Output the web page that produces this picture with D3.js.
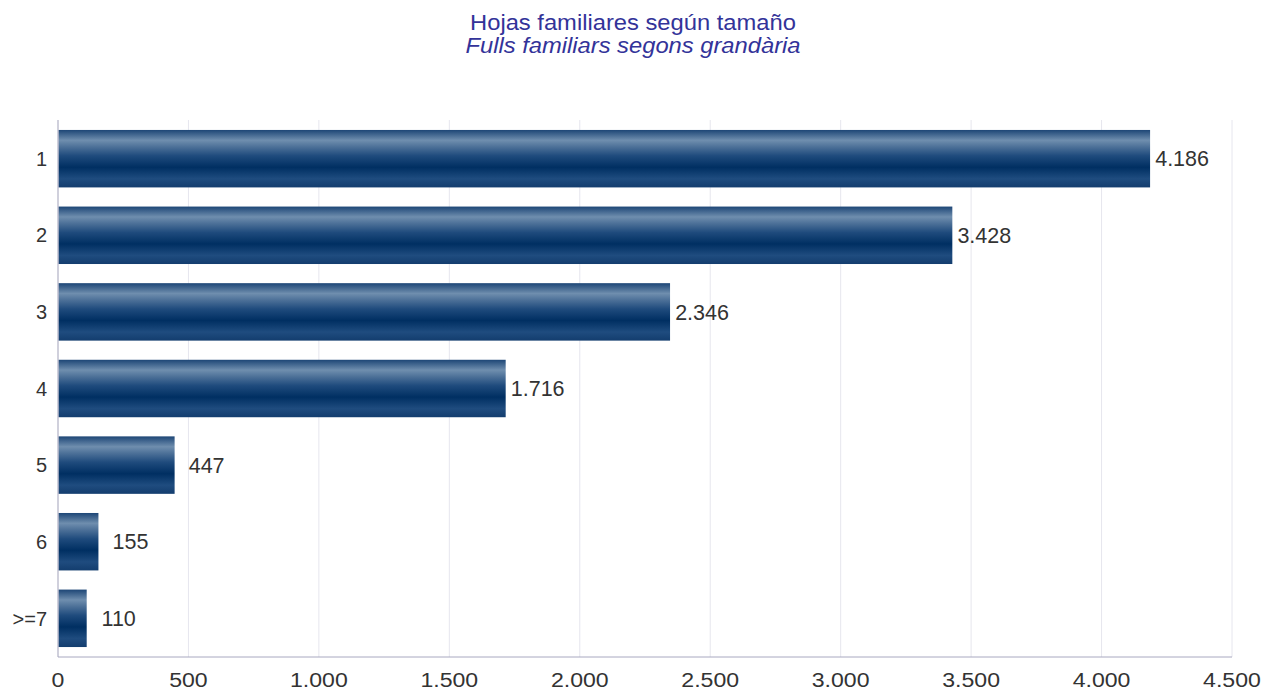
<!DOCTYPE html>
<html><head><meta charset="utf-8">
<script src="https://cdn.jsdelivr.net/npm/d3@7"></script>
<style>body{margin:0;background:#fff;font-family:"Liberation Sans",Arial,sans-serif;}</style>
</head><body>
<svg id="c" width="1267" height="692"></svg>
<script>
const categories = ["1","2","3","4","5","6",">=7"];
const values = [4186,3428,2346,1716,447,155,110];
const xTicks = [0,500,1000,1500,2000,2500,3000,3500,4000,4500];
const title = "Hojas familiares según tamaño";
const subtitle = "Fulls familiars segons grandària";

const svg = d3.select("#c");
const m = {l:58, r:35, t:120, b:35};
const W = 1267, H = 692;
const fmt = v => d3.format(",")(v).replace(/,/g, ".");

const x = d3.scaleLinear().domain([0,4500]).range([m.l, W - m.r]);
const y = d3.scaleBand().domain(categories).range([m.t, H - m.b]).paddingInner(0.25).paddingOuter(0.13);

// horizontally stretched text helper
function stretch(sel, sx) {
  sel.attr("transform", function() {
    const tx = +d3.select(this).attr("x");
    return `translate(${tx},0) scale(${sx},1) translate(${-tx},0)`;
  });
}

const defs = svg.append("defs");
const g = defs.append("linearGradient").attr("id","bar").attr("x1",0).attr("y1",0).attr("x2",0).attr("y2",1);
[[0,"#1d4676"],[0.18,"#6f8eae"],[0.3,"#4b6f97"],[0.45,"#1f4b7d"],[0.65,"#002f62"],[0.85,"#1f4c7f"],[1,"#133d6e"]]
  .forEach(([o,c]) => g.append("stop").attr("offset",o).attr("stop-color",c));

const t1 = svg.append("text").attr("x", 633).attr("y", 30).attr("text-anchor","middle")
  .attr("fill","#333399").style("font-size","22px").text(title);
const t2 = svg.append("text").attr("x", 633).attr("y", 53).attr("text-anchor","middle")
  .attr("fill","#333399").style("font-size","22px").style("font-style","italic").text(subtitle);
stretch(t1, 1.08); stretch(t2, 1.08);

// grid
svg.append("g").selectAll("line").data(xTicks.slice(1)).join("line")
  .attr("x1", d => x(d)).attr("x2", d => x(d)).attr("y1", m.t).attr("y2", H - m.b)
  .attr("stroke","#e6e6ee").attr("stroke-width",1);

// bars
svg.append("g").selectAll("rect").data(values).join("rect")
  .attr("x", x(0)).attr("y", (d,i) => y(categories[i]))
  .attr("width", d => x(d) - x(0)).attr("height", y.bandwidth())
  .attr("fill","url(#bar)");

// value labels
svg.append("g").selectAll("text").data(values).join("text")
  .attr("x", d => x(d) + 32).attr("y", (d,i) => y(categories[i]) + y.bandwidth()/2)
  .attr("dy","0.36em").attr("text-anchor","middle")
  .attr("fill","#333").style("font-size","21.5px").text(d => fmt(d));

// y axis
svg.append("line").attr("x1", m.l).attr("x2", m.l).attr("y1", m.t).attr("y2", H - m.b)
  .attr("stroke","#c0c0d0").attr("stroke-width",1.5);
svg.append("g").selectAll("text").data(categories).join("text")
  .attr("x", m.l - 11).attr("y", d => y(d) + y.bandwidth()/2).attr("dy","0.36em")
  .attr("text-anchor","end").attr("fill","#333").style("font-size","20px").text(d => d);

// x axis
svg.append("line").attr("x1", m.l).attr("x2", W - m.r).attr("y1", H - m.b).attr("y2", H - m.b)
  .attr("stroke","#a8a8c0").attr("stroke-width",1);
const tk = svg.append("g").selectAll("text").data(xTicks).join("text")
  .attr("x", d => x(d)).attr("y", 687).attr("text-anchor","middle")
  .attr("fill","#333").style("font-size","21px").text(d => fmt(d));
stretch(tk, 1.1);
</script>
</body></html>
